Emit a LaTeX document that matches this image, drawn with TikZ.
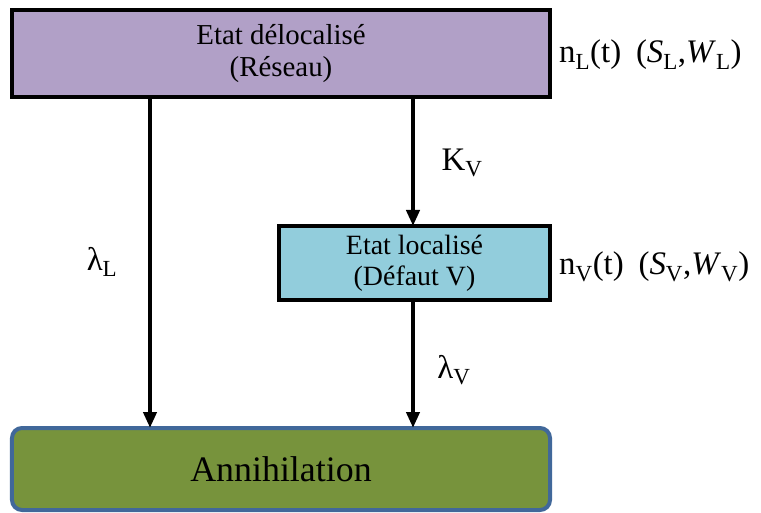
\documentclass[tikz,border=0pt]{standalone}
\usepackage{fontspec}
\setmainfont{Liberation Serif}
\usetikzlibrary{arrows.meta}
\definecolor{boxpurple}{HTML}{B1A0C7}
\definecolor{boxblue}{HTML}{92CDDC}
\definecolor{boxgreen}{HTML}{77933C}
\definecolor{boxedge}{HTML}{41689A}
\tikzset{
  statebox/.style={draw=black, line width=4bp, inner sep=0pt, align=center},
  flow/.style={line width=4bp, -{Triangle[length=16bp,width=13bp]}},
  lbl/.style={font=\fontsize{33}{36}\selectfont, inner sep=0pt}
}
\begin{document}
\begin{tikzpicture}[x=1bp,y=-1bp]
\useasboundingbox (0,0) rectangle (761,513);
\node[statebox, fill=boxpurple, minimum width=538bp, minimum height=87bp, font=\fontsize{29}{32}\selectfont] (top) at (281,53.5) {Etat délocalisé\\(Réseau)};
\node[statebox, fill=boxblue, minimum width=271bp, minimum height=74bp, font=\fontsize{28}{31}\selectfont] (mid) at (414.5,263) {Etat localisé\\(Défaut V)};
\node[draw=boxedge, line width=4bp, fill=boxgreen, rounded corners=10bp, minimum width=538bp, minimum height=82bp, inner sep=0pt, font=\fontsize{36}{40}\selectfont] (ann) at (281,469) {Annihilation};
\coordinate (tl) at (150,97);
\coordinate (al) at (150,428);
\coordinate (tr) at (413,97);
\coordinate (mt) at (413,226);
\coordinate (mb) at (413,300);
\coordinate (ar) at (413,428);
\draw[flow] (tl) -- (al);
\draw[flow] (tr) -- (mt);
\draw[flow] (mb) -- (ar);
\node[lbl] (lamL) at (102,262) {λ\textsubscript{L}};
\node[lbl] (kv) at (462,163) {K\textsubscript{V}};
\node[lbl] (lamV) at (454,370) {λ\textsubscript{V}};
\node[lbl, anchor=west] (nL) at (559,55) {n\textsubscript{L}(t)\hspace{0.45em}(\textit{S}\textsubscript{L},\textit{W}\textsubscript{L})};
\node[lbl, anchor=west] (nV) at (559,267) {n\textsubscript{V}(t)\hspace{0.45em}(\textit{S}\textsubscript{V},\textit{W}\textsubscript{V})};
\end{tikzpicture}
\end{document}
